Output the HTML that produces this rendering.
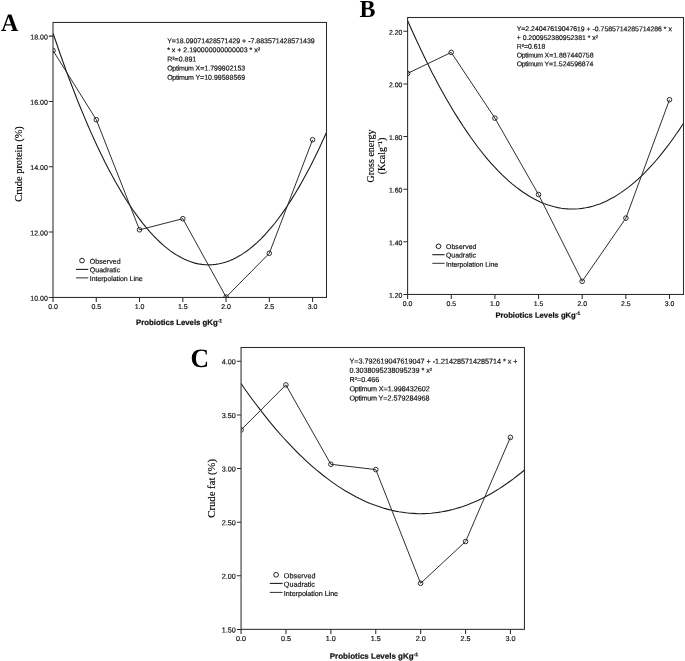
<!DOCTYPE html>
<html lang="en"><head><meta charset="utf-8"><title>Figure</title>
<style>html,body{margin:0;padding:0;background:#fff}svg{display:block}text{font-family:"Liberation Sans",Arial,sans-serif;fill:#111;stroke:#111;stroke-width:0.18}.se{font-family:"Liberation Serif","Times New Roman",serif;fill:#000;stroke:none}.ax{stroke:#2c2c2c;stroke-width:1.05;fill:none}.q{stroke:#1c1c1c;stroke-width:1.1;fill:none}.ip{stroke:#2e2e2e;stroke-width:1;fill:none}.pt{stroke:#222;stroke-width:0.95;fill:none}</style></head><body>
<svg width="685" height="661" viewBox="0 0 685 661">
<rect width="685" height="661" fill="#fff"/>
<g>
<clipPath id="cpA"><rect x="53.00" y="22.45" width="273.50" height="275.00"/></clipPath>
<rect class="ax" x="53.00" y="22.45" width="273.50" height="275.00"/>
<path class="ax" d="M48.8 297.40H53.0M48.8 232.08H53.0M48.8 166.76H53.0M48.8 101.44H53.0M48.8 36.12H53.0M53.00 297.4V301.9M96.27 297.4V301.9M139.53 297.4V301.9M182.80 297.4V301.9M226.06 297.4V301.9M269.32 297.4V301.9M312.59 297.4V301.9"/>
<text transform="rotate(0.03 47.80 300.72)" x="47.80" y="300.72" font-size="7.0" text-anchor="end">10.00</text>
<text transform="rotate(0.03 47.80 235.40)" x="47.80" y="235.40" font-size="7.0" text-anchor="end">12.00</text>
<text transform="rotate(0.03 47.80 170.08)" x="47.80" y="170.08" font-size="7.0" text-anchor="end">14.00</text>
<text transform="rotate(0.03 47.80 104.76)" x="47.80" y="104.76" font-size="7.0" text-anchor="end">16.00</text>
<text transform="rotate(0.03 47.80 39.44)" x="47.80" y="39.44" font-size="7.0" text-anchor="end">18.00</text>
<text transform="rotate(0.03 53.00 309.00)" x="53.00" y="309.00" font-size="7.0" text-anchor="middle">0.0</text>
<text transform="rotate(0.03 96.27 309.00)" x="96.27" y="309.00" font-size="7.0" text-anchor="middle">0.5</text>
<text transform="rotate(0.03 139.53 309.00)" x="139.53" y="309.00" font-size="7.0" text-anchor="middle">1.0</text>
<text transform="rotate(0.03 182.80 309.00)" x="182.80" y="309.00" font-size="7.0" text-anchor="middle">1.5</text>
<text transform="rotate(0.03 226.06 309.00)" x="226.06" y="309.00" font-size="7.0" text-anchor="middle">2.0</text>
<text transform="rotate(0.03 269.32 309.00)" x="269.32" y="309.00" font-size="7.0" text-anchor="middle">2.5</text>
<text transform="rotate(0.03 312.59 309.00)" x="312.59" y="309.00" font-size="7.0" text-anchor="middle">3.0</text>
<g clip-path="url(#cpA)">
<polyline class="q" points="53.0,33.2 56.5,43.3 59.9,53.3 63.4,63.0 66.8,72.5 70.3,81.8 73.8,90.8 77.2,99.7 80.7,108.2 84.2,116.6 87.6,124.7 91.1,132.6 94.5,140.3 98.0,147.7 101.5,154.9 104.9,161.9 108.4,168.7 111.9,175.2 115.3,181.5 118.8,187.6 122.2,193.4 125.7,199.0 129.2,204.4 132.6,209.5 136.1,214.4 139.6,219.1 143.0,223.6 146.5,227.8 149.9,231.8 153.4,235.6 156.9,239.2 160.3,242.5 163.8,245.6 167.2,248.4 170.7,251.1 174.2,253.5 177.6,255.6 181.1,257.6 184.6,259.3 188.0,260.8 191.5,262.0 194.9,263.1 198.4,263.9 201.9,264.4 205.3,264.8 208.8,264.9 212.3,264.8 215.7,264.4 219.2,263.8 222.6,263.0 226.1,262.0 229.6,260.7 233.0,259.2 236.5,257.5 239.9,255.6 243.4,253.4 246.9,251.0 250.3,248.4 253.8,245.5 257.3,242.4 260.7,239.1 264.2,235.5 267.6,231.7 271.1,227.7 274.6,223.5 278.0,219.0 281.5,214.3 285.0,209.4 288.4,204.2 291.9,198.9 295.3,193.2 298.8,187.4 302.3,181.3 305.7,175.0 309.2,168.5 312.7,161.7 316.1,154.8 319.6,147.5 323.0,140.1 326.5,132.4"/>
<polyline class="ip" points="53.0,50.5 96.3,119.7 139.5,229.8 182.8,218.7 226.1,297.1 269.3,253.3 312.6,139.7"/>
<circle class="pt" cx="53.0" cy="50.5" r="2.3"/>
<circle class="pt" cx="96.3" cy="119.7" r="2.3"/>
<circle class="pt" cx="139.5" cy="229.8" r="2.3"/>
<circle class="pt" cx="182.8" cy="218.7" r="2.3"/>
<circle class="pt" cx="226.1" cy="297.1" r="2.3"/>
<circle class="pt" cx="269.3" cy="253.3" r="2.3"/>
<circle class="pt" cx="312.6" cy="139.7" r="2.3"/>
</g>
<circle class="pt" cx="82.0" cy="260.6" r="2.35" style="stroke-width:1"/>
<path class="q" d="M76 269.4H88.3"/>
<path class="ip" d="M76 277.9H88.3"/>
<text transform="rotate(0.03 89.80 263.80)" x="89.80" y="263.80" font-size="7.0" letter-spacing="0.08">Observed</text>
<text transform="rotate(0.03 89.80 272.20)" x="89.80" y="272.20" font-size="7.0">Quadratic</text>
<text transform="rotate(0.03 89.80 281.10)" x="89.80" y="281.10" font-size="7.0" letter-spacing="-0.05">Interpolation Line</text>
<text transform="rotate(0.03 167.20 43.15)" x="167.20" y="43.15" font-size="7.0">Y=18.09071428571429 + -7.883571428571439</text>
<text transform="rotate(0.03 167.20 52.28)" x="167.20" y="52.28" font-size="7.0">* x + 2.190000000000003 * x²</text>
<text transform="rotate(0.03 167.20 61.41)" x="167.20" y="61.41" font-size="7.0">R²=0.891</text>
<text transform="rotate(0.03 167.20 70.54)" x="167.20" y="70.54" font-size="7.0"><tspan letter-spacing="-0.28">Optimum</tspan> X=1.799902153</text>
<text transform="rotate(0.03 167.20 79.67)" x="167.20" y="79.67" font-size="7.0"><tspan letter-spacing="-0.28">Optimum</tspan> Y=10.99588569</text>
<text transform="rotate(0.03 179.1 325.0)" x="179.1" y="325.0" font-size="7.77" font-weight="bold" text-anchor="middle" style="stroke:#111;stroke-width:0.22;fill:#111">Probiotics Levels gKg<tspan font-size="5.04" dy="-2.6">-1</tspan></text>
<text class="se" style="stroke:#000;stroke-width:0.15" transform="translate(22.0,164.0) rotate(-90)" font-size="10.4" text-anchor="middle">Crude protein (%)</text>
<text class="se" transform="translate(1.0,31.1) rotate(0.03) scale(1.0,1.04)" font-size="24" font-weight="bold">A</text>
</g>
<g>
<clipPath id="cpB"><rect x="407.60" y="17.50" width="275.90" height="276.95"/></clipPath>
<rect class="ax" x="407.60" y="17.50" width="275.90" height="276.95"/>
<path class="ax" d="M403.4 294.45H407.6M403.4 241.82H407.6M403.4 189.19H407.6M403.4 136.56H407.6M403.4 83.93H407.6M403.4 31.30H407.6M407.60 294.4V298.9M451.25 294.4V298.9M494.90 294.4V298.9M538.55 294.4V298.9M582.20 294.4V298.9M625.85 294.4V298.9M669.50 294.4V298.9"/>
<text transform="rotate(0.03 402.40 297.83)" x="402.40" y="297.83" font-size="6.9" text-anchor="end">1.20</text>
<text transform="rotate(0.03 402.40 245.20)" x="402.40" y="245.20" font-size="6.9" text-anchor="end">1.40</text>
<text transform="rotate(0.03 402.40 192.57)" x="402.40" y="192.57" font-size="6.9" text-anchor="end">1.60</text>
<text transform="rotate(0.03 402.40 139.94)" x="402.40" y="139.94" font-size="6.9" text-anchor="end">1.80</text>
<text transform="rotate(0.03 402.40 87.31)" x="402.40" y="87.31" font-size="6.9" text-anchor="end">2.00</text>
<text transform="rotate(0.03 402.40 34.68)" x="402.40" y="34.68" font-size="6.9" text-anchor="end">2.20</text>
<text transform="rotate(0.03 407.60 305.90)" x="407.60" y="305.90" font-size="6.9" text-anchor="middle">0.0</text>
<text transform="rotate(0.03 451.25 305.90)" x="451.25" y="305.90" font-size="6.9" text-anchor="middle">0.5</text>
<text transform="rotate(0.03 494.90 305.90)" x="494.90" y="305.90" font-size="6.9" text-anchor="middle">1.0</text>
<text transform="rotate(0.03 538.55 305.90)" x="538.55" y="305.90" font-size="6.9" text-anchor="middle">1.5</text>
<text transform="rotate(0.03 582.20 305.90)" x="582.20" y="305.90" font-size="6.9" text-anchor="middle">2.0</text>
<text transform="rotate(0.03 625.85 305.90)" x="625.85" y="305.90" font-size="6.9" text-anchor="middle">2.5</text>
<text transform="rotate(0.03 669.50 305.90)" x="669.50" y="305.90" font-size="6.9" text-anchor="middle">3.0</text>
<g clip-path="url(#cpB)">
<polyline class="q" points="407.6,20.6 411.1,28.5 414.6,36.3 418.1,43.8 421.6,51.2 425.1,58.5 428.6,65.5 432.0,72.4 435.5,79.1 439.0,85.7 442.5,92.0 446.0,98.3 449.5,104.3 453.0,110.2 456.5,115.9 460.0,121.4 463.5,126.8 467.0,131.9 470.5,137.0 474.0,141.8 477.4,146.5 480.9,151.0 484.4,155.4 487.9,159.6 491.4,163.6 494.9,167.4 498.4,171.1 501.9,174.6 505.4,177.9 508.9,181.1 512.4,184.1 515.9,186.9 519.4,189.5 522.8,192.0 526.3,194.3 529.8,196.5 533.3,198.5 536.8,200.3 540.3,201.9 543.8,203.4 547.3,204.7 550.8,205.8 554.3,206.8 557.8,207.6 561.3,208.2 564.8,208.6 568.3,208.9 571.7,209.0 575.2,209.0 578.7,208.8 582.2,208.4 585.7,207.8 589.2,207.1 592.7,206.2 596.2,205.1 599.7,203.9 603.2,202.4 606.7,200.9 610.2,199.1 613.7,197.2 617.1,195.1 620.6,192.9 624.1,190.4 627.6,187.9 631.1,185.1 634.6,182.2 638.1,179.1 641.6,175.8 645.1,172.4 648.6,168.7 652.1,165.0 655.6,161.0 659.1,156.9 662.5,152.6 666.0,148.2 669.5,143.5 673.0,138.7 676.5,133.8 680.0,128.6 683.5,123.3"/>
<polyline class="ip" points="407.6,73.4 451.2,52.4 494.9,118.1 538.5,194.5 582.2,281.3 625.9,218.1 669.5,99.7"/>
<circle class="pt" cx="407.6" cy="73.4" r="2.3"/>
<circle class="pt" cx="451.2" cy="52.4" r="2.3"/>
<circle class="pt" cx="494.9" cy="118.1" r="2.3"/>
<circle class="pt" cx="538.5" cy="194.5" r="2.3"/>
<circle class="pt" cx="582.2" cy="281.3" r="2.3"/>
<circle class="pt" cx="625.9" cy="218.1" r="2.3"/>
<circle class="pt" cx="669.5" cy="99.7" r="2.3"/>
</g>
<circle class="pt" cx="438.5" cy="246.3" r="2.35" style="stroke-width:1"/>
<path class="q" d="M432.3 254.7H444.6"/>
<path class="ip" d="M432.3 263.3H444.6"/>
<text transform="rotate(0.03 446.00 249.00)" x="446.00" y="249.00" font-size="6.9" letter-spacing="0.08">Observed</text>
<text transform="rotate(0.03 446.00 257.50)" x="446.00" y="257.50" font-size="6.9">Quadratic</text>
<text transform="rotate(0.03 446.00 266.80)" x="446.00" y="266.80" font-size="6.9" letter-spacing="-0.05">Interpolation Line</text>
<text transform="rotate(0.03 516.70 31.10)" x="516.70" y="31.10" font-size="6.9">Y=2.24047619047619 + -0.7585714285714286 * x</text>
<text transform="rotate(0.03 516.70 39.88)" x="516.70" y="39.88" font-size="6.9">+ 0.200952380952381 * x²</text>
<text transform="rotate(0.03 516.70 48.66)" x="516.70" y="48.66" font-size="6.9">R²=0.618</text>
<text transform="rotate(0.03 516.70 57.44)" x="516.70" y="57.44" font-size="6.9"><tspan letter-spacing="-0.28">Optimum</tspan> X=1.887440758</text>
<text transform="rotate(0.03 516.70 66.22)" x="516.70" y="66.22" font-size="6.9"><tspan letter-spacing="-0.28">Optimum</tspan> Y=1.524596874</text>
<text transform="rotate(0.03 537.8 317.7)" x="537.8" y="317.7" font-size="7.66" font-weight="bold" text-anchor="middle" style="stroke:#111;stroke-width:0.22;fill:#111">Probiotics Levels gKg<tspan font-size="4.97" dy="-2.6">-1</tspan></text>
<text class="se" style="stroke:#000;stroke-width:0.15" transform="translate(373.9,156.0) rotate(-90)" font-size="10.0" text-anchor="middle">Gross energy</text>
<text class="se" style="stroke:#000;stroke-width:0.15" transform="translate(384.9,156.0) rotate(-90)" font-size="10.0" text-anchor="middle">(Kcalg⁻¹)</text>
<text class="se" transform="translate(359.5,17.0) rotate(0.03) scale(1.0,1.025)" font-size="24" font-weight="bold">B</text>
</g>
<g>
<clipPath id="cpC"><rect x="241.05" y="347.50" width="283.40" height="281.85"/></clipPath>
<rect class="ax" x="241.05" y="347.50" width="283.40" height="281.85"/>
<path class="ax" d="M236.9 629.40H241.1M236.9 575.78H241.1M236.9 522.16H241.1M236.9 468.54H241.1M236.9 414.92H241.1M236.9 361.30H241.1M241.05 629.4V633.9M285.95 629.4V633.9M330.85 629.4V633.9M375.75 629.4V633.9M420.65 629.4V633.9M465.55 629.4V633.9M510.45 629.4V633.9"/>
<text transform="rotate(0.03 235.85 632.49)" x="235.85" y="632.49" font-size="7.2" text-anchor="end">1.50</text>
<text transform="rotate(0.03 235.85 578.87)" x="235.85" y="578.87" font-size="7.2" text-anchor="end">2.00</text>
<text transform="rotate(0.03 235.85 525.25)" x="235.85" y="525.25" font-size="7.2" text-anchor="end">2.50</text>
<text transform="rotate(0.03 235.85 471.63)" x="235.85" y="471.63" font-size="7.2" text-anchor="end">3.00</text>
<text transform="rotate(0.03 235.85 418.01)" x="235.85" y="418.01" font-size="7.2" text-anchor="end">3.50</text>
<text transform="rotate(0.03 235.85 364.39)" x="235.85" y="364.39" font-size="7.2" text-anchor="end">4.00</text>
<text transform="rotate(0.03 241.05 641.00)" x="241.05" y="641.00" font-size="7.2" text-anchor="middle">0.0</text>
<text transform="rotate(0.03 285.95 641.00)" x="285.95" y="641.00" font-size="7.2" text-anchor="middle">0.5</text>
<text transform="rotate(0.03 330.85 641.00)" x="330.85" y="641.00" font-size="7.2" text-anchor="middle">1.0</text>
<text transform="rotate(0.03 375.75 641.00)" x="375.75" y="641.00" font-size="7.2" text-anchor="middle">1.5</text>
<text transform="rotate(0.03 420.65 641.00)" x="420.65" y="641.00" font-size="7.2" text-anchor="middle">2.0</text>
<text transform="rotate(0.03 465.55 641.00)" x="465.55" y="641.00" font-size="7.2" text-anchor="middle">2.5</text>
<text transform="rotate(0.03 510.45 641.00)" x="510.45" y="641.00" font-size="7.2" text-anchor="middle">3.0</text>
<g clip-path="url(#cpC)">
<polyline class="q" points="241.1,383.5 244.6,388.7 248.2,393.7 251.8,398.7 255.4,403.5 259.0,408.2 262.6,412.9 266.2,417.4 269.7,421.8 273.3,426.1 276.9,430.4 280.5,434.5 284.1,438.5 287.7,442.4 291.3,446.2 294.9,449.9 298.4,453.5 302.0,456.9 305.6,460.3 309.2,463.6 312.8,466.8 316.4,469.9 320.0,472.8 323.6,475.7 327.1,478.4 330.7,481.1 334.3,483.6 337.9,486.1 341.5,488.4 345.1,490.7 348.7,492.8 352.3,494.8 355.8,496.8 359.4,498.6 363.0,500.3 366.6,501.9 370.2,503.4 373.8,504.8 377.4,506.1 381.0,507.3 384.5,508.4 388.1,509.4 391.7,510.3 395.3,511.1 398.9,511.8 402.5,512.3 406.1,512.8 409.7,513.2 413.2,513.4 416.8,513.6 420.4,513.7 424.0,513.6 427.6,513.5 431.2,513.2 434.8,512.8 438.4,512.4 441.9,511.8 445.5,511.1 449.1,510.4 452.7,509.5 456.3,508.5 459.9,507.4 463.5,506.2 467.1,504.9 470.6,503.5 474.2,502.0 477.8,500.4 481.4,498.7 485.0,496.9 488.6,494.9 492.2,492.9 495.8,490.8 499.3,488.6 502.9,486.2 506.5,483.8 510.1,481.2 513.7,478.6 517.3,475.8 520.9,473.0 524.5,470.0"/>
<polyline class="ip" points="241.1,429.9 285.9,384.9 330.9,464.3 375.8,469.6 420.6,583.3 465.6,541.5 510.4,437.4"/>
<circle class="pt" cx="241.1" cy="429.9" r="2.3"/>
<circle class="pt" cx="285.9" cy="384.9" r="2.3"/>
<circle class="pt" cx="330.9" cy="464.3" r="2.3"/>
<circle class="pt" cx="375.8" cy="469.6" r="2.3"/>
<circle class="pt" cx="420.6" cy="583.3" r="2.3"/>
<circle class="pt" cx="465.6" cy="541.5" r="2.3"/>
<circle class="pt" cx="510.4" cy="437.4" r="2.3"/>
</g>
<circle class="pt" cx="276.1" cy="574.8" r="2.35" style="stroke-width:1"/>
<path class="q" d="M269.8 583.4H282.6"/>
<path class="ip" d="M269.8 592.4H282.6"/>
<text transform="rotate(0.03 283.80 578.20)" x="283.80" y="578.20" font-size="7.2" letter-spacing="0.08">Observed</text>
<text transform="rotate(0.03 283.80 586.80)" x="283.80" y="586.80" font-size="7.2">Quadratic</text>
<text transform="rotate(0.03 283.80 596.00)" x="283.80" y="596.00" font-size="7.2" letter-spacing="-0.05">Interpolation Line</text>
<text transform="rotate(0.03 349.50 363.60)" x="349.50" y="363.60" font-size="7.2">Y=3.792619047619047 + -1.214285714285714 * x +</text>
<text transform="rotate(0.03 349.50 372.80)" x="349.50" y="372.80" font-size="7.2">0.3038095238095239 * x²</text>
<text transform="rotate(0.03 349.50 382.00)" x="349.50" y="382.00" font-size="7.2">R²=0.466</text>
<text transform="rotate(0.03 349.50 391.20)" x="349.50" y="391.20" font-size="7.2"><tspan letter-spacing="-0.28">Optimum</tspan> X=1.998432602</text>
<text transform="rotate(0.03 349.50 400.40)" x="349.50" y="400.40" font-size="7.2"><tspan letter-spacing="-0.28">Optimum</tspan> Y=2.579284968</text>
<text transform="rotate(0.03 374.0 658.8)" x="374.0" y="658.8" font-size="7.99" font-weight="bold" text-anchor="middle" style="stroke:#111;stroke-width:0.22;fill:#111">Probiotics Levels gKg<tspan font-size="5.18" dy="-2.6">-1</tspan></text>
<text class="se" style="stroke:#000;stroke-width:0.15" transform="translate(215.0,488.3) rotate(-90)" font-size="10.7" text-anchor="middle">Crude fat (%)</text>
<text class="se" transform="translate(190.5,367.05) rotate(0.03) scale(1.07,1.106)" font-size="24" font-weight="bold">C</text>
</g>
</svg></body></html>
